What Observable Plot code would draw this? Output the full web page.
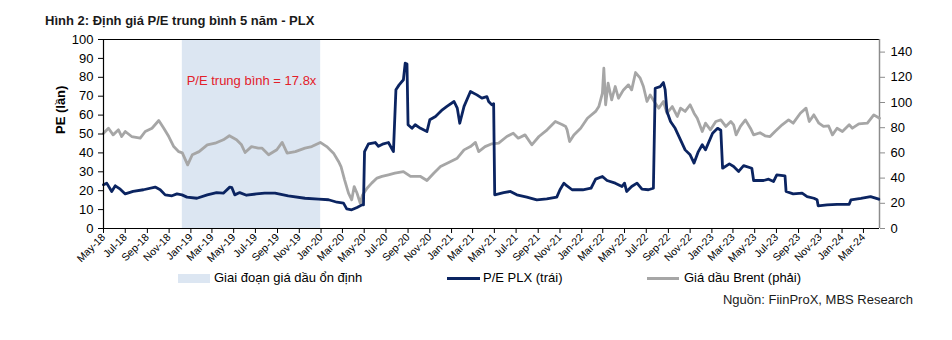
<!DOCTYPE html>
<html>
<head>
<meta charset="utf-8">
<script src="https://cdn.jsdelivr.net/npm/d3@7"></script>
<script src="https://cdn.jsdelivr.net/npm/@observablehq/plot@0.6"></script>
<style>
  html, body { margin: 0; padding: 0; background: #fff; }
  body { width: 952px; height: 340px; position: relative; overflow: hidden; font-family: "Liberation Sans", Arial, sans-serif; color: #000; }
  #title { position: absolute; left: 45px; top: 13px; font-size: 13px; font-weight: bold; color: #1a1a1a; }
  #chart { position: absolute; left: 0; top: 0; }
  #chart svg { overflow: visible; }
  .leg { position: absolute; top: 270px; font-size: 13px; line-height: 16px; display: flex; align-items: center; }
  #source { position: absolute; right: 39px; top: 292px; font-size: 13px; color: #1a1a1a; }
</style>
</head>
<body>
<div id="title">Hình 2: Định giá P/E trung bình 5 năm - PLX</div>
<div id="chart"></div>
<div class="leg" style="left:178px"><span style="display:inline-block;width:32px;height:9px;background:#dce6f2;margin-right:4px"></span>Giai đoạn giá dầu ổn định</div>
<div class="leg" style="left:447px"><span style="display:inline-block;width:33px;height:3px;background:#0b2461;margin-right:3px"></span>P/E PLX (trái)</div>
<div class="leg" style="left:647px"><span style="display:inline-block;width:32px;height:3px;background:#a6a6a6;margin-right:5px"></span>Giá dầu Brent (phải)</div>
<div id="source">Nguồn: FiinProX, MBS Research</div>
<script>
// P/E PLX (left axis, times)
const pe = [
  ["2018-05-01",23.1],["2018-05-10",24],["2018-05-24",19.6],["2018-06-03",22.6],["2018-06-17",20.8],
  ["2018-07-01",18.3],["2018-07-23",19.6],["2018-08-21",20.5],["2018-09-23",21.9],["2018-10-07",20.5],
  ["2018-10-21",17.8],["2018-11-09",17.3],["2018-11-23",18.3],["2018-12-07",17.8],["2018-12-21",16.6],
  ["2019-01-18",16],["2019-02-16",17.8],["2019-03-14",19],["2019-04-02",18.7],["2019-04-20",21.9],
  ["2019-04-26",21.6],["2019-05-04",17.8],["2019-05-18",19],["2019-06-06",17.6],["2019-07-04",18.3],
  ["2019-07-27",18.7],["2019-08-25",18.7],["2019-10-01",17.3],["2019-11-17",16],["2019-12-25",15.5],
  ["2020-01-22",15.2],["2020-02-15",13.9],["2020-03-04",13.4],["2020-03-13",10.4],["2020-03-27",9.9],
  ["2020-04-11",11.1],["2020-04-25",12.5],["2020-04-29",12.5],["2020-05-02",40.7],["2020-05-13",44.8],
  ["2020-06-01",45.5],["2020-06-10",43.5],["2020-06-24",44.8],["2020-07-08",45.5],["2020-07-22",40.7],
  ["2020-07-29",73.4],["2020-08-07",76],["2020-08-19",78.7],["2020-08-24",87.5],["2020-08-29",87],
  ["2020-09-01",54.9],["2020-09-12",53],["2020-09-21",54.9],["2020-10-06",53],["2020-10-24",51.3],
  ["2020-11-01",57.5],["2020-11-17",59.3],["2020-12-06",62.8],["2020-12-19",64.6],["2021-01-08",67.2],
  ["2021-01-17",63.7],["2021-01-24",55.7],["2021-02-05",64.6],["2021-02-23",72.5],["2021-03-13",70.7],
  ["2021-03-27",69],["2021-04-10",69.8],["2021-04-15",67.2],["2021-04-24",65.4],["2021-04-29",66],
  ["2021-05-02",17.8],["2021-05-27",19],["2021-06-15",19.6],["2021-07-03",17.8],["2021-07-31",16.6],
  ["2021-08-28",15.2],["2021-09-25",15.7],["2021-10-23",16.6],["2021-11-01",20.5],["2021-11-12",24],
  ["2021-11-17",23.1],["2021-12-05",20.5],["2022-01-04",20.5],["2022-01-27",21.3],["2022-02-09",26.1],
  ["2022-02-28",27.5],["2022-03-13",25.4],["2022-04-05",24],["2022-04-24",22.2],["2022-05-01",24],
  ["2022-05-07",19.6],["2022-05-21",22.2],["2022-06-05",24],["2022-06-19",20.8],["2022-07-07",20.5],
  ["2022-07-21",21.3],["2022-07-26",74.2],["2022-08-09",75.1],["2022-08-18",77.2],["2022-08-23",73.4],
  ["2022-08-28",61.9],["2022-09-07",56.6],["2022-09-20",53],["2022-10-05",46.9],["2022-10-18",41.6],
  ["2022-11-01",39],["2022-11-12",34.6],["2022-11-24",40.7],["2022-12-05",44.3],["2022-12-14",41.6],
  ["2023-01-03",50.4],["2023-01-17",53],["2023-01-26",52],["2023-01-31",31.9],["2023-02-19",34.2],
  ["2023-03-03",32.8],["2023-03-17",30.2],["2023-03-31",33.3],["2023-04-23",31.9],["2023-04-28",25.4],
  ["2023-05-26",25.4],["2023-06-09",26.1],["2023-06-23",24.9],["2023-07-02",28.4],["2023-07-25",27.9],
  ["2023-07-28",19.6],["2023-08-17",18.3],["2023-09-11",18.7],["2023-09-25",16.9],["2023-10-14",16],
  ["2023-10-23",15.2],["2023-10-26",12],["2023-11-20",12.5],["2023-12-18",12.8],["2024-01-21",12.8],
  ["2024-01-26",15.2],["2024-02-23",16],["2024-03-21",16.9],["2024-04-13",15.5]
];
// Brent oil price (right axis, USD/bbl)
const brent = [
  ["2018-05-01",75.6],["2018-05-15",79.6],["2018-05-28",74.3],["2018-06-12",78.3],["2018-06-21",73],
  ["2018-07-01",77],["2018-07-19",73],["2018-08-12",71.7],["2018-08-26",77],["2018-09-14",79.6],
  ["2018-10-03",85.7],["2018-10-17",79.6],["2018-10-31",73],["2018-11-14",65],["2018-11-28",61],
  ["2018-12-08",60],["2018-12-23",50.5],["2019-01-05",58.5],["2019-01-24",61],["2019-02-16",66.4],
  ["2019-03-10",67.7],["2019-04-02",70.4],["2019-04-19",73.6],["2019-05-09",70.4],["2019-05-23",66.4],
  ["2019-06-02",60.3],["2019-06-20",65],["2019-07-09",63.8],["2019-07-19",63.8],["2019-08-07",58.5],
  ["2019-08-30",62.5],["2019-09-14",68.3],["2019-09-28",59.8],["2019-10-21",61],["2019-11-17",63.8],
  ["2019-12-06",65],["2019-12-30",68.3],["2020-01-17",65],["2020-02-05",59.8],["2020-02-19",53.2],
  ["2020-02-26",49.2],["2020-03-07",38.6],["2020-03-18",28],["2020-03-27",22.8],["2020-04-03",33.3],
  ["2020-04-11",28],["2020-04-20",20],["2020-04-26",26.4],["2020-05-09",32],["2020-05-22",36],
  ["2020-06-06",40],["2020-06-20",41.4],["2020-07-08",42.6],["2020-07-26",43.9],["2020-08-19",45.2],
  ["2020-09-08",41.3],["2020-10-06",41.3],["2020-10-24",38.1],["2020-11-12",43.9],["2020-12-01",49.2],
  ["2020-12-24",52.4],["2021-01-17",55.8],["2021-02-05",62.4],["2021-02-23",65],["2021-03-09",68.3],
  ["2021-03-18",61],["2021-04-05",65],["2021-04-24",67.2],["2021-05-13",67.7],["2021-06-05",73],
  ["2021-06-23",75.6],["2021-07-07",71.7],["2021-07-26",74.3],["2021-08-14",66.4],["2021-09-03",73],
  ["2021-09-26",78.3],["2021-10-19",84.9],["2021-11-08",82.3],["2021-11-17",81],["2021-11-21",78.3],
  ["2021-11-28",69],["2021-12-10",74.3],["2021-12-29",79.6],["2022-01-17",87.5],["2022-02-09",92.9],
  ["2022-02-18",96.8],["2022-02-28",107.4],["2022-03-04",127.2],["2022-03-09",98.2],["2022-03-16",115.3],
  ["2022-03-26",102.1],["2022-04-05",112.7],["2022-04-14",103.4],["2022-04-28",110],["2022-05-12",114],
  ["2022-05-21",110],["2022-06-01",123.8],["2022-06-14",119.3],["2022-06-23",112.7],["2022-07-03",100.8],
  ["2022-07-12",106],["2022-07-26",99.5],["2022-08-05",95.5],["2022-08-18",100.8],["2022-08-28",91.5],
  ["2022-09-12",96.8],["2022-09-26",88.9],["2022-10-05",95.5],["2022-10-18",92.9],["2022-11-01",98.2],
  ["2022-11-12",91.5],["2022-11-21",87.5],["2022-12-05",77],["2022-12-14",83.6],["2022-12-28",78.3],
  ["2023-01-12",84.9],["2023-01-26",86.2],["2023-02-09",81],["2023-02-23",84.9],["2023-03-03",82.3],
  ["2023-03-10",74.3],["2023-03-22",81],["2023-04-05",86.2],["2023-04-19",79.6],["2023-04-28",74.3],
  ["2023-05-16",76],["2023-05-30",73.6],["2023-06-13",73],["2023-06-27",77],["2023-07-17",82.3],
  ["2023-08-04",86.2],["2023-08-17",83.6],["2023-09-06",91.5],["2023-09-22",95.5],["2023-10-01",84.9],
  ["2023-10-14",90.2],["2023-10-28",83.6],["2023-11-10",81],["2023-11-24",81.5],["2023-12-05",74.3],
  ["2023-12-18",79.6],["2024-01-02",77],["2024-01-21",82.3],["2024-01-30",79.6],["2024-02-17",83],
  ["2024-03-12",83.6],["2024-03-30",90.2],["2024-04-15",87.5]
];
// Stable oil price period (shaded band)
const stablePeriod = [["2018-12-08","2019-12-31"]];
const annotationText = ["P/E trung bình = 17.8x"];
const annotationY = [78];
const leftTicks = [0,10,20,30,40,50,60,70,80,90,100];
const rightTicks = [0,20,40,60,80,100,120,140];
const xDomain = ["2018-05-01","2024-04-15"];
const leftMax = 100, rightMax = 150;

const parse = d3.utcParse("%Y-%m-%d");
const k = leftMax / rightMax;
const peData = pe.map(([d, v]) => ({date: parse(d), v}));
const brentData = brent.map(([d, v]) => ({date: parse(d), v: v * k}));
const band = stablePeriod.map(([a, b]) => ({x1: parse(a), x2: parse(b)}));
const annot = band.map((b, i) => ({x: new Date((+b.x1 + +b.x2) / 2), y: annotationY[i], t: annotationText[i]}));
const dom = xDomain.map(parse);
const xTicks = d3.utcMonth.every(2).range(parse("2018-05-01"), parse("2024-03-02"));
const fmt = d3.utcFormat("%b-%y");

const chart = Plot.plot({
  width: 952,
  height: 266,
  marginTop: 39,
  marginBottom: 38,
  marginLeft: 103,
  marginRight: 73,
  style: {fontFamily: "'Liberation Sans', Arial, sans-serif", color: "#000", background: "transparent", overflow: "visible"},
  x: {type: "utc", domain: dom},
  y: {domain: [0, leftMax]},
  marks: [
    Plot.rectX(band, {x1: "x1", x2: "x2", y1: 0, y2: leftMax, fill: "#dce6f2"}),
    Plot.ruleY([leftMax], {stroke: "#000", strokeWidth: 1.2}),
    Plot.ruleX([dom[1]], {stroke: "#8c8c8c", strokeWidth: 1.5}),
    Plot.line(brentData, {x: "date", y: "v", stroke: "#a6a6a6", strokeWidth: 2.8, curve: "linear"}),
    Plot.line(peData, {x: "date", y: "v", stroke: "#0b2461", strokeWidth: 2.8, curve: "linear"}),
    Plot.text(annot, {x: "x", y: "y", text: "t", fill: "#e3202a", fontSize: 13}),
    Plot.axisY({anchor: "left", ticks: leftTicks, tickSize: 5, tickPadding: 5, fontSize: 13, label: null, stroke: "#000"}),
    Plot.axisY({anchor: "right", ticks: rightTicks.map(v => v * k), tickFormat: d => Math.round(d / k), tickSize: 5, tickPadding: 6, fontSize: 13, label: null, stroke: "#8c8c8c"}),
    Plot.ruleX([dom[0]], {stroke: "#000", strokeWidth: 1.2}),
    Plot.ruleY([0], {stroke: "#000", strokeWidth: 1.2}),
    Plot.axisX({ticks: xTicks, tickFormat: fmt, tickSize: 5, tickRotate: -45, fontSize: 10.5, tickPadding: 2, label: null, stroke: "#000"}),
    Plot.text(["PE (lần)"], {frameAnchor: "left", dx: -43, rotate: -90, fontSize: 13, fontWeight: "bold"})
  ]
});
document.getElementById("chart").appendChild(chart);
</script>
</body>
</html>
